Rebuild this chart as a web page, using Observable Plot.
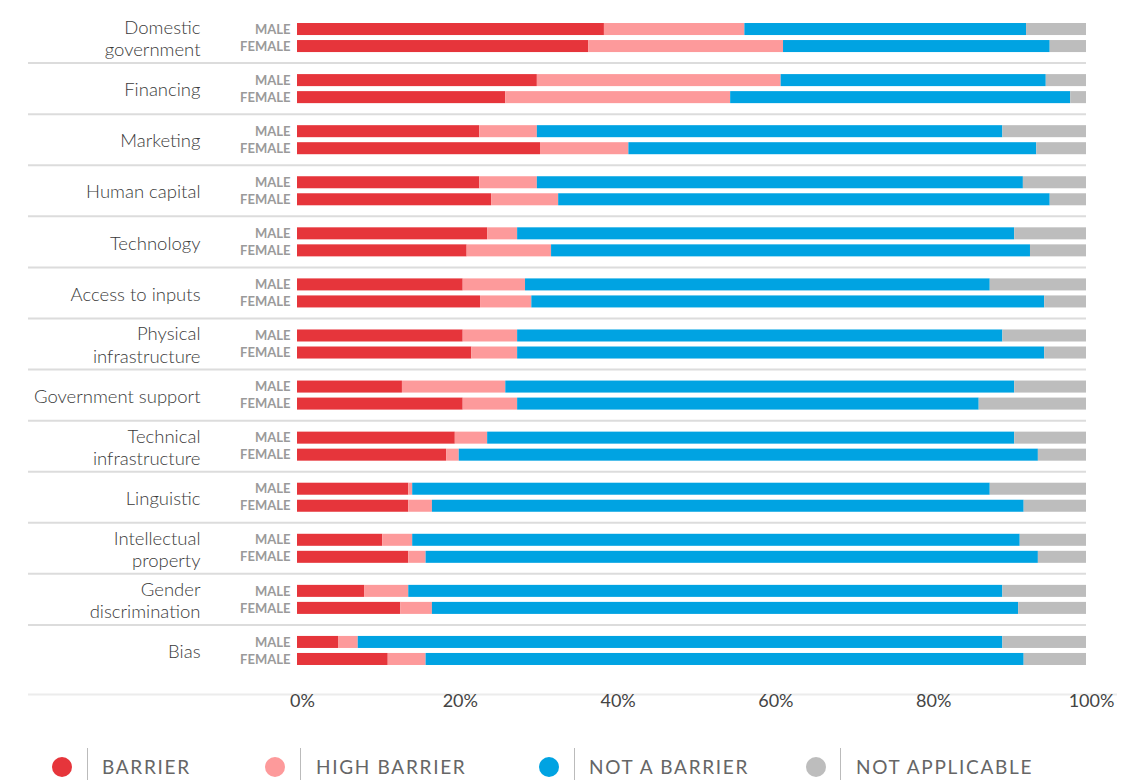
<!DOCTYPE html>
<html>
<head>
<meta charset="utf-8">
<script src="https://cdn.jsdelivr.net/npm/d3@7"></script>
<script src="https://cdn.jsdelivr.net/npm/@observablehq/plot@0.6"></script>
<style>
  html, body { margin: 0; padding: 0; background: #fff; }
  #chart { position: relative; width: 1122px; }
  g[aria-label="gender-labels"] text { letter-spacing: 2.1px; }
  g[aria-label="category-labels"] text { letter-spacing: 0.6px; }
  #legend { position: relative; width: 1122px; height: 50px; font-family: Lato, sans-serif; }
  .dot { position: absolute; width: 20px; height: 20px; border-radius: 50%; top: 27px; }
  .sep { position: absolute; width: 1px; background: #bbb; top: 18px; height: 32px; }
  .lab { position: absolute; top: 26px; font-size: 19px; line-height: 22px; letter-spacing: 1.7px; color: #666; }
</style>
</head>
<body>
<div id="chart"></div>
<div id="legend"></div>
<script>
const categories = ["Domestic\ngovernment","Financing","Marketing","Human capital","Technology","Access to inputs","Physical\ninfrastructure","Government support","Technical\ninfrastructure","Linguistic","Intellectual\nproperty","Gender\ndiscrimination","Bias"];
const genders = ["MALE","FEMALE"];
const statuses = ["BARRIER","HIGH BARRIER","NOT A BARRIER","NOT APPLICABLE"];
const colors = ["#e6353b","#fd9a9b","#00a3e2","#bdbdbd"];
const xTicks = [0,20,40,60,80,100];

// percentages, one value per category (same order as categories)
const maleBarrier     = [38.9,30.4,23.1,23.1,24.1,21.0,21.0,13.3,20.0,14.1,10.8, 8.5, 5.2];
const maleHigh        = [17.8,30.9, 7.3, 7.3, 3.8, 7.9, 6.9,13.1, 4.1, 0.5, 3.8, 5.6, 2.5];
const maleNot         = [35.7,33.6,59.0,61.6,63.0,58.9,61.5,64.5,66.8,73.2,77.0,75.3,81.7];
const maleNA          = [ 7.6, 5.1,10.6, 8.0, 9.1,12.2,10.6, 9.1, 9.1,12.2, 8.4,10.6,10.6];
const femaleBarrier   = [36.9,26.4,30.8,24.6,21.5,23.2,22.1,21.0,18.9,14.1,14.1,13.1,11.5];
const femaleHigh      = [24.7,28.5,11.2, 8.5,10.7, 6.5, 5.8, 6.9, 1.6, 3.0, 2.2, 4.0, 4.8];
const femaleNot       = [33.8,43.1,51.7,62.3,60.7,65.0,66.8,58.5,73.4,75.0,77.6,74.3,75.8];
const femaleNA        = [ 4.6, 2.0, 6.3, 4.6, 7.1, 5.3, 5.3,13.6, 6.1, 7.9, 6.1, 8.6, 7.9];

const series = {
  MALE: [maleBarrier, maleHigh, maleNot, maleNA],
  FEMALE: [femaleBarrier, femaleHigh, femaleNot, femaleNA]
};
const rows = [];
const genderRows = [];
categories.forEach((c, i) => {
  genders.forEach(g => {
    genderRows.push({category: c, gender: g});
    statuses.forEach((s, k) => rows.push({category: c, gender: g, status: s, value: series[g][k][i]}));
  });
});

const chart = Plot.plot({
  width: 1122,
  height: 730,
  marginTop: 12,
  marginBottom: 54,
  marginLeft: 297,
  marginRight: 36,
  style: {fontFamily: "Lato, sans-serif", color: "#444", background: "#fff"},
  x: {domain: [0, 100], label: null},
  y: {domain: genders, axis: null, paddingInner: 5/17, paddingOuter: 11/17, round: false},
  fy: {domain: categories, axis: null, padding: 0, round: false},
  color: {domain: statuses, range: colors},
  marks: [
    Plot.ruleY(categories.slice(1), {fy: d => d, y: () => "MALE", dy: -17.5, insetLeft: -269, stroke: "#dcdcdc", strokeWidth: 2}),
    Plot.ruleY(["Bias"], {fy: d => d, y: () => "FEMALE", dy: 35, insetLeft: -269, insetRight: -31, stroke: "#ececec", strokeWidth: 2}),
    Plot.barX(rows, Plot.stackX({x: "value", y: "gender", fy: "category", fill: "status", order: statuses})),
    Plot.text(categories, {fy: d => d, text: d => d, frameAnchor: "left", dx: -97, textAnchor: "end", fontSize: 18.5, lineHeight: 1.21, fill: "#3a3a3a", fontWeight: 300, ariaLabel: "category-labels"}),
    Plot.text(genderRows, {fy: "category", y: "gender", text: "gender", frameAnchor: "left", dx: -7, textAnchor: "end", fontSize: 13, fontWeight: 700, fill: "#9a9a9a", ariaLabel: "gender-labels"}),
    Plot.axisX({ticks: xTicks, tickFormat: d => d + "%", tickSize: 0, tickPadding: 18, fontSize: 18, dx: 5, anchor: "bottom", label: null})
  ]
});
document.getElementById("chart").appendChild(chart);

// legend
const legendPos = [{dot: 52, sep: 87, lab: 102}, {dot: 265, sep: 300, lab: 316}, {dot: 539, sep: 574, lab: 589}, {dot: 806, sep: 840, lab: 856}];
const legend = document.getElementById("legend");
statuses.forEach((s, k) => {
  const p = legendPos[k];
  const dot = document.createElement("div");
  dot.className = "dot"; dot.style.left = p.dot + "px"; dot.style.background = colors[k];
  const sep = document.createElement("div");
  sep.className = "sep"; sep.style.left = p.sep + "px";
  const lab = document.createElement("div");
  lab.className = "lab"; lab.style.left = p.lab + "px"; lab.textContent = s;
  legend.append(dot, sep, lab);
});
</script>
</body>
</html>
